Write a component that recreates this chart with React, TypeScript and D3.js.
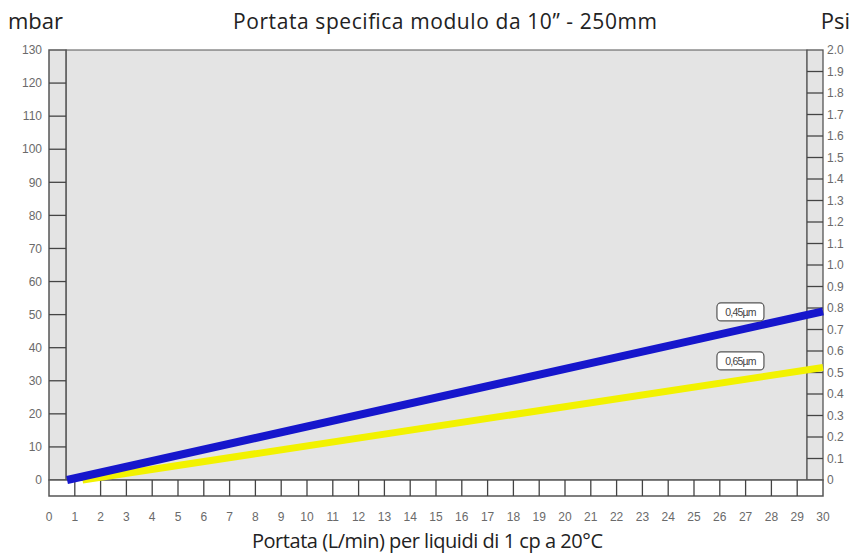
import React, { useEffect, useRef } from 'react';
import * as d3 from 'd3';

// flow rate (L/min) vs pressure drop (mbar / psi)
const xTicks = d3.range(0, 31);
const mbarTicks = d3.range(0, 131, 10);
const psiTicks = d3.range(0, 21).map((d) => d / 10);
const psiLabels = ['0', '0.1', '0.2', '0.3', '0.4', '0.5', '0.6', '0.7', '0.8', '0.9', '1.0', '1.1', '1.2', '1.3', '1.4', '1.5', '1.6', '1.7', '1.8', '1.9', '2.0'];

const series = [
  { name: '0,65µm', color: '#f2f200', width: 7, flow: [1.3, 30], mbar: [0, 34], labelAt: 26.8, labelY: 36 },
  { name: '0,45µm', color: '#1616cc', width: 8, flow: [0.7, 30], mbar: [0, 51], labelAt: 26.8, labelY: 50.8 },
];

const App: React.FC = () => {
  const svgRef = useRef<SVGSVGElement>(null);

  useEffect(() => {
    if (!svgRef.current) return;
    const svg = d3.select(svgRef.current);
    svg.selectAll('*').remove();

    const x = d3.scaleLinear().domain([0, 30]).range([49, 823]);
    const y = d3.scaleLinear().domain([0, 130]).range([480, 50]);
    const yPsi = d3.scaleLinear().domain([0, 2]).range([480, 50]);

    const plotL = 66;
    const plotR = 807;
    const stroke = '#555';
    const tickFont = '"Liberation Sans", Arial, sans-serif';

    // plot background
    svg.append('rect').attr('x', plotL).attr('y', y(130)).attr('width', plotR - plotL).attr('height', y(0) - y(130))
      .attr('fill', '#e4e4e4').attr('stroke', stroke).attr('stroke-width', 1);

    // left strip
    svg.append('rect').attr('x', x(0)).attr('y', y(130)).attr('width', plotL - x(0)).attr('height', y(0) - y(130))
      .attr('fill', '#e4e4e4').attr('stroke', stroke).attr('stroke-width', 1.5);
    svg.append('g').selectAll('line').data(mbarTicks.filter((d) => d > 0 && d < 130)).join('line')
      .attr('x1', x(0)).attr('x2', plotL).attr('y1', (d) => y(d)).attr('y2', (d) => y(d))
      .attr('stroke', '#444').attr('stroke-width', 1.3);

    // right strip
    svg.append('rect').attr('x', plotR).attr('y', y(130)).attr('width', x(30) - plotR).attr('height', y(0) - y(130))
      .attr('fill', '#e4e4e4').attr('stroke', stroke).attr('stroke-width', 1.3);
    svg.append('g').selectAll('line').data(psiTicks.filter((d) => d > 0 && d < 2)).join('line')
      .attr('x1', plotR).attr('x2', x(30)).attr('y1', (d) => yPsi(d)).attr('y2', (d) => yPsi(d))
      .attr('stroke', '#444').attr('stroke-width', 1.3);

    // bottom strip
    svg.append('rect').attr('x', x(0)).attr('y', y(0)).attr('width', x(30) - x(0)).attr('height', 16)
      .attr('fill', '#fff').attr('stroke', stroke).attr('stroke-width', 1.5);
    svg.append('g').selectAll('line').data(xTicks.filter((d) => d > 0 && d < 30)).join('line')
      .attr('x1', (d) => x(d)).attr('x2', (d) => x(d)).attr('y1', y(0)).attr('y2', y(0) + 16)
      .attr('stroke', '#444').attr('stroke-width', 1.3);

    // tick labels
    svg.append('g').selectAll('text').data(mbarTicks).join('text')
      .attr('x', 42).attr('y', (d) => y(d)).attr('dy', '0.35em').attr('text-anchor', 'end')
      .attr('font-family', tickFont).attr('font-size', 12).attr('fill', '#6a6a6a')
      .text((d) => d);
    svg.append('g').selectAll('text').data(psiLabels).join('text')
      .attr('x', 827).attr('y', (_d, i) => yPsi(psiTicks[i])).attr('dy', '0.35em')
      .attr('font-family', tickFont).attr('font-size', 12).attr('fill', '#6a6a6a')
      .text((d) => d);
    svg.append('g').selectAll('text').data(xTicks).join('text')
      .attr('x', (d) => x(d)).attr('y', 517).attr('dy', '0.35em').attr('text-anchor', 'middle')
      .attr('font-family', tickFont).attr('font-size', 12).attr('fill', '#6a6a6a')
      .text((d) => d);

    // series lines
    const line = d3.line<[number, number]>().x((d) => x(d[0])).y((d) => y(d[1]));
    series.forEach((s) => {
      const pts: [number, number][] = s.flow.map((f, i) => [f, s.mbar[i]]);
      svg.append('path').attr('d', line(pts) as string).attr('fill', 'none')
        .attr('stroke', s.color).attr('stroke-width', s.width);
    });

    // series labels
    series.forEach((s) => {
      const cx = x(s.labelAt);
      const cy = y(s.labelY);
      svg.append('rect').attr('x', cx - 23.5).attr('y', cy - 9).attr('width', 47).attr('height', 18)
        .attr('rx', 4).attr('fill', '#fff').attr('stroke', '#555').attr('stroke-width', 1.2);
      svg.append('text').attr('x', cx).attr('y', cy).attr('dy', '0.35em').attr('text-anchor', 'middle')
        .attr('font-family', tickFont).attr('font-size', 10.5).attr('letter-spacing', -0.8).attr('fill', '#444')
        .text(s.name);
    });

    // titles
    const titleFont = '"Open Sans", Lato, sans-serif';
    svg.append('text').attr('x', 8).attr('y', 29).attr('font-family', titleFont).attr('font-size', 22)
      .attr('fill', '#222').text('mbar');
    svg.append('text').attr('x', 233).attr('y', 29).attr('font-family', titleFont)
      .attr('font-size', 21).attr('textLength', 424).attr('fill', '#222').text('Portata specifica modulo da 10” - 250mm');
    svg.append('text').attr('x', 850).attr('y', 29).attr('text-anchor', 'end').attr('font-family', titleFont)
      .attr('font-size', 22).attr('fill', '#222').text('Psi');
    svg.append('text').attr('x', 252).attr('y', 548).attr('font-family', titleFont)
      .attr('font-size', 20).attr('textLength', 351).attr('fill', '#222').text('Portata (L/min) per liquidi di 1 cp a 20°C');
  }, []);

  return (
    <svg ref={svgRef} width={854} height={553}
      style={{ position: 'absolute', left: 0, top: 0, background: '#fff' }} />
  );
};

export default App;
